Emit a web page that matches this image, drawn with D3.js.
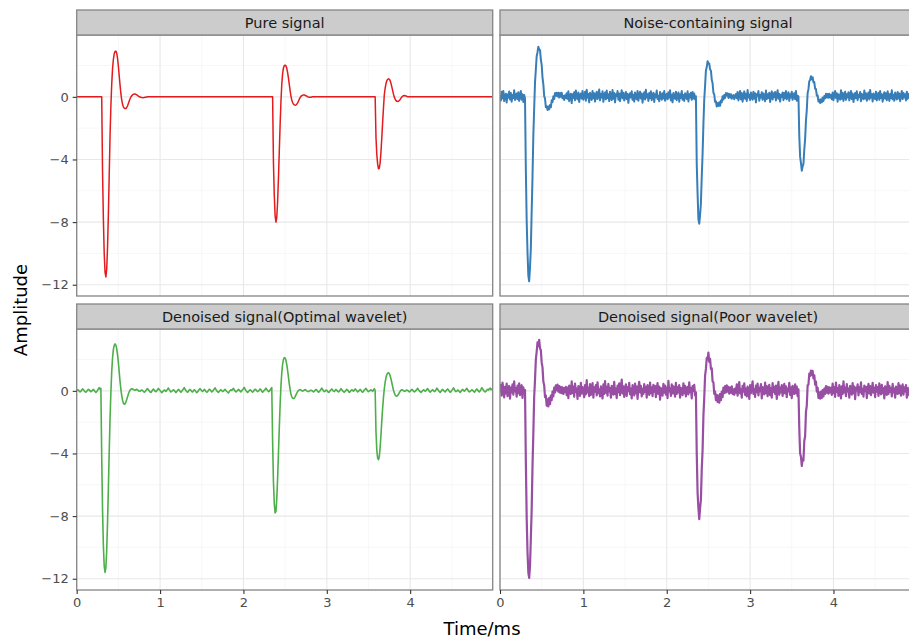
<!DOCTYPE html>
<html>
<head>
<meta charset="utf-8">
<script src="https://cdn.jsdelivr.net/npm/d3@7"></script>
<style>
  body { margin: 0; background: #ffffff; }
  svg { display: block; font-family: "DejaVu Sans", sans-serif; }
</style>
</head>
<body>
<svg id="chart" width="909" height="641"></svg>
<script>
// Facet titles and line colours (one per panel, row by row)
const panelTitles = [
  "Pure signal",
  "Noise-containing signal",
  "Denoised signal(Optimal wavelet)",
  "Denoised signal(Poor wavelet)"
];
const lineColors = ["#e41a1c", "#377eb8", "#4daf4a", "#984ea3"];

// Axis ticks
const xTicks = [0, 1, 2, 3, 4];
const xMinorTicks = [0.5, 1.5, 2.5, 3.5, 4.5];
const yTicks = [-12, -8, -4, 0];
const yMinorTicks = [-10, -6, -2, 2];

// Pure signal: [time (ms), amplitude]; flat stretches are given by their end points
const pureSignal = [
  [0, 0], [0.30, 0], [0.31, -4.8], [0.32, -7.8], [0.33, -10.0], [0.34, -11.2], [0.35, -11.5], [0.36, -11.0],
  [0.37, -9.6], [0.38, -7.5], [0.39, -5.0], [0.40, -2.5], [0.41, -0.6], [0.42, 0.8], [0.43, 1.8], [0.44, 2.4],
  [0.45, 2.75], [0.46, 2.9], [0.47, 2.92], [0.48, 2.8], [0.49, 2.45], [0.50, 1.95], [0.51, 1.35], [0.52, 0.75],
  [0.53, 0.2], [0.54, -0.2], [0.55, -0.48], [0.56, -0.64], [0.57, -0.72], [0.58, -0.75], [0.59, -0.74], [0.60, -0.68],
  [0.61, -0.57], [0.62, -0.42], [0.63, -0.26], [0.64, -0.12], [0.65, -0.01], [0.66, 0.07], [0.67, 0.13], [0.68, 0.16],
  [0.69, 0.18], [0.70, 0.18], [0.71, 0.16], [0.72, 0.13], [0.73, 0.09], [0.74, 0.05], [0.75, 0.02], [0.76, -0.01],
  [0.77, -0.03], [0.78, -0.04], [0.79, -0.05], [0.80, -0.05], [0.81, -0.04], [0.82, -0.03], [0.83, -0.02], [0.84, -0.01],
  [0.85, 0],
  [2.35, 0], [2.36, -4.2], [2.37, -6.3], [2.38, -7.6], [2.39, -8.0], [2.40, -7.7], [2.41, -6.7], [2.42, -5.2],
  [2.43, -3.5], [2.44, -1.8], [2.45, -0.3], [2.46, 0.8], [2.47, 1.5], [2.48, 1.85], [2.49, 2.0], [2.50, 2.02],
  [2.51, 1.98], [2.52, 1.82], [2.53, 1.55], [2.54, 1.2], [2.55, 0.8], [2.56, 0.4], [2.57, 0.05], [2.58, -0.2],
  [2.59, -0.36], [2.60, -0.46], [2.61, -0.51], [2.62, -0.53], [2.63, -0.52], [2.64, -0.47], [2.65, -0.38], [2.66, -0.27],
  [2.67, -0.15], [2.68, -0.05], [2.69, 0.03], [2.70, 0.08], [2.71, 0.11], [2.72, 0.12], [2.73, 0.12], [2.74, 0.1],
  [2.75, 0.07], [2.76, 0.04], [2.77, 0.01], [2.78, -0.01], [2.79, -0.02], [2.80, -0.03], [2.81, -0.02], [2.82, -0.01],
  [2.83, 0],
  [3.58, 0], [3.59, -2.6], [3.60, -3.7], [3.61, -4.3], [3.62, -4.6], [3.63, -4.55], [3.64, -4.2], [3.65, -3.5],
  [3.66, -2.6], [3.67, -1.6], [3.68, -0.7], [3.69, 0.15], [3.70, 0.55], [3.71, 0.85], [3.72, 1.03], [3.73, 1.12],
  [3.74, 1.15], [3.75, 1.13], [3.76, 1.03], [3.77, 0.86], [3.78, 0.64], [3.79, 0.4], [3.80, 0.17], [3.81, -0.02],
  [3.82, -0.15], [3.83, -0.24], [3.84, -0.29], [3.85, -0.3], [3.86, -0.28], [3.87, -0.23], [3.88, -0.16], [3.89, -0.08],
  [3.90, -0.01], [3.91, 0.04], [3.92, 0.07], [3.93, 0.08], [3.94, 0.07], [3.95, 0.05], [3.96, 0.03], [3.97, 0.01],
  [3.98, 0], [4.99, 0]
];

// Sampled signals: one value every 0.01 ms from 0 to 4.99 ms (500 samples)
const sampleStep = 0.01;

const noisySignal = [
  // 0.00 - 0.29
  0.1, -0.24, 0.33, -0.1, 0.38, -0.27, 0.06, 0.2, -0.36, 0.15, -0.05, 0.34, -0.17, 0.25, -0.31, 0.11, -0.08, 0.42, -0.2, 0.04,
  0.22, -0.15, 0.29, -0.26, 0.08, 0.37, -0.18, 0.16, -0.33, 0.12,
  // 0.30 - 0.79
  -0.1, -4.65, -7.92, -9.92, -11.42, -11.78, -10.9, -9.65, -7.32, -5.1,
  -2.44, -0.74, 0.92, 1.75, 2.6, 2.85, 3.2, 3.04, 2.98, 2.37,
  2.05, 1.23, 0.8, 0.05, -0.11, -0.66, -0.59, -0.84, -0.61, -0.8,
  -0.52, -0.67, -0.22, -0.34, 0.03, -0.14, 0.25, 0.07, 0.26, 0.03,
  0.26, -0.04, 0.25, 0.0, 0.26, -0.09, 0.06, -0.2, 0.1, -0.08,
  // 0.80 - 2.34
  0.23, -0.13, 0.35, -0.28, 0.09, 0.2, -0.4, 0.16, -0.07, 0.3, -0.22, 0.41, 0.02, -0.16, 0.27, -0.33, 0.12, 0.21, -0.11, 0.37,
  -0.18, 0.07, 0.32, -0.25, 0.45, -0.05, 0.18, -0.35, 0.26, 0.04, -0.2, 0.38, -0.09, 0.23, -0.3, 0.14, 0.33, -0.14, 0.05, 0.47,
  -0.23, 0.19, -0.04, 0.35, -0.32, 0.11, 0.28, -0.16, 0.4, -0.07, 0.17, -0.27, 0.33, 0.0, -0.21, 0.43, -0.12, 0.25, -0.35, 0.16,
  0.05, 0.37, -0.18, 0.21, -0.28, 0.12, 0.42, -0.09, 0.26, -0.23, 0.04, 0.31, -0.14, 0.19, -0.38, 0.1, 0.23, -0.05, 0.35, -0.19,
  0.14, -0.3, 0.28, 0.02, -0.16, 0.38, -0.25, 0.09, 0.33, -0.1, 0.21, -0.37, 0.07, 0.3, -0.17, 0.45, -0.04, 0.16, -0.26, 0.24,
  -0.09, 0.35, -0.21, 0.12, 0.26, -0.33, 0.17, -0.02, 0.4, -0.14, 0.07, -0.28, 0.31, 0.04, -0.19, 0.23, -0.1, 0.37, -0.25, 0.1,
  0.19, -0.16, 0.3, -0.05, 0.42, -0.23, 0.14, -0.35, 0.25, 0.0, -0.12, 0.33, -0.21, 0.09, 0.28, -0.31, 0.17, -0.07, 0.38, -0.18,
  0.12, -0.26, 0.23, 0.05, -0.14, 0.35, -0.3, 0.16, -0.04, 0.26, -0.19, 0.31, -0.1, 0.21, -0.16,
  // 2.35 - 2.82
  0.04, -4.3, -6.18, -7.8, -8.1, -7.55, -6.78, -5.1, -3.66, -1.75,
  -0.17, 0.71, 1.68, 1.9, 2.28, 2.12, 2.13, 1.76, 1.67, 1.1,
  0.87, 0.26, 0.15, -0.32, -0.28, -0.62, -0.4, -0.58, -0.35, -0.57,
  -0.24, -0.35, 0.04, -0.17, 0.12, -0.07, 0.24, 0.08, 0.22, -0.07,
  0.19, -0.04, 0.17, -0.12, 0.04, 0.12, -0.16, 0.07,
  // 2.83 - 3.57
  0.18, -0.09, 0.31, -0.23, 0.1, 0.38, -0.16, 0.24, -0.31, 0.05, 0.35, -0.12, 0.19, -0.26, 0.43, -0.04, 0.14, -0.21, 0.28, 0.02,
  -0.18, 0.33, -0.1, 0.23, -0.35, 0.16, 0.07, 0.37, -0.25, 0.12, -0.05, 0.3, -0.19, 0.21, 0.04, -0.28, 0.4, -0.14, 0.17, -0.07,
  0.26, -0.33, 0.1, 0.35, -0.17, 0.23, -0.02, 0.31, -0.23, 0.09, 0.42, -0.12, 0.19, -0.3, 0.14, 0.0, 0.28, -0.21, 0.25, -0.09,
  0.37, -0.16, 0.05, 0.3, -0.26, 0.17, -0.04, 0.33, -0.19, 0.12, 0.23, -0.14, 0.38, -0.25, 0.07,
  // 3.58 - 3.97
  0.02, -2.5, -3.82, -4.24, -4.72, -4.45, -4.28, -3.38, -2.7, -1.52,
  -0.84, 0.25, 0.49, 1.0, 1.08, 1.32, 1.11, 1.25, 0.93, 0.94,
  0.51, 0.5, 0.08, 0.1, -0.3, -0.18, -0.39, -0.16, -0.35, -0.05,
  -0.26, 0.05, -0.1, 0.2, -0.04, 0.18, -0.06, 0.2, -0.05, 0.12,
  // 3.98 - 4.99
  -0.16, 0.28,
  -0.21, 0.12, 0.37, -0.07, 0.23, -0.31, 0.16, 0.04, -0.18, 0.42, -0.12, 0.26, -0.26, 0.09, 0.33, -0.19, 0.17, -0.04, 0.3, -0.23,
  0.1, 0.38, -0.14, 0.21, -0.33, 0.05, 0.25, -0.09, 0.35, -0.21, 0.14, -0.02, 0.31, -0.28, 0.19, 0.07, -0.16, 0.4, -0.1, 0.23,
  -0.25, 0.12, 0.28, -0.17, 0.44, -0.05, 0.16, -0.3, 0.21, 0.0, -0.14, 0.33, -0.23, 0.1, 0.26, -0.19, 0.37, -0.07, 0.17, -0.31,
  0.05, 0.3, -0.12, 0.23, -0.21, 0.35, 0.02, -0.26, 0.19, -0.09, 0.42, -0.16, 0.14, -0.25, 0.28, 0.04, -0.17, 0.31, -0.1, 0.21,
  -0.28, 0.09, 0.37, -0.14, 0.25, -0.04, 0.16, -0.23, 0.33, -0.12, 0.19, 0.07, -0.21, 0.3, -0.05, 0.38, -0.17, 0.1, 0.23, -0.09
];

const optimalDenoised = [
  // 0.00 - 0.29
  0.03, 0.07, 0.05, -0.02, -0.07, -0.03, 0.05, 0.12, 0.08, 0.01, -0.05, -0.09, -0.03, 0.04, 0.1, 0.06, 0.0, -0.06, -0.02, 0.05,
  0.09, 0.03, -0.04, -0.1, -0.05, 0.03, 0.13, 0.2, 0.09, 0.16,
  // 0.30 - 0.79
  -4.2, -7.6, -9.9, -11.2, -11.6, -11.3, -10.2, -8.4, -6.2, -3.9,
  -1.8, -0.1, 1.2, 2.1, 2.65, 2.9, 3.0, 2.92, 2.7, 2.3,
  1.8, 1.2, 0.6, 0.1, -0.3, -0.6, -0.78, -0.85, -0.83, -0.72,
  -0.56, -0.38, -0.2, -0.06, 0.04, 0.1, 0.13, 0.12, 0.09, 0.06,
  0.04, 0.07, 0.1, 0.06, 0.01, -0.03, -0.02, 0.02, 0.05, 0.02,
  // 0.80 - 2.34
  -0.04, -0.09, -0.05, 0.02, 0.09, 0.14, 0.07, 0.0, -0.07, -0.1, -0.03, 0.05, 0.11, 0.05, -0.02, -0.06, 0.0, 0.07, 0.16, 0.08,
  0.02, -0.05, -0.12, -0.07, 0.0, 0.05, 0.02, -0.04, 0.04, 0.1, 0.18, 0.08, 0.0, -0.07, -0.03, 0.02, 0.07, 0.03, -0.05, -0.11,
  -0.05, 0.03, 0.09, 0.05, -0.02, -0.09, -0.03, 0.05, 0.12, 0.21, 0.1, 0.02, -0.05, -0.09, -0.02, 0.05, 0.09, 0.03, -0.04, -0.07,
  0.0, 0.07, 0.03, -0.05, -0.12, -0.07, 0.02, 0.09, 0.14, 0.07, 0.0, -0.04, 0.02, 0.09, 0.05, -0.04, -0.09, -0.05, 0.03, 0.1,
  0.07, 0.0, -0.07, -0.03, 0.05, 0.12, 0.19, 0.09, 0.0, -0.05, -0.1, -0.04, 0.03, 0.07, 0.02, -0.05, -0.02, 0.05, 0.1, 0.03,
  -0.04, -0.09, -0.14, -0.05, 0.02, 0.07, 0.03, 0.09, 0.16, 0.07, -0.02, -0.07, -0.03, 0.03, 0.09, 0.05, -0.02, -0.07, 0.0, 0.07,
  0.14, 0.22, 0.1, 0.02, -0.05, -0.1, -0.05, 0.02, 0.07, 0.03, -0.04, -0.09, -0.03, 0.05, 0.1, 0.07, 0.0, -0.05, -0.02, 0.05,
  0.12, 0.07, -0.02, -0.09, -0.03, 0.03, 0.09, 0.17, 0.09, 0.02, -0.05, -0.03, 0.05, 0.14, 0.2,
  // 2.35 - 2.82
  -3.2, -5.8, -7.2, -7.8, -7.7, -6.9, -5.6, -4.0, -2.4, -0.9,
  0.3, 1.15, 1.7, 2.0, 2.12, 2.1, 1.95, 1.68, 1.3, 0.88,
  0.45, 0.08, -0.2, -0.38, -0.47, -0.5, -0.46, -0.37, -0.26, -0.14,
  -0.05, 0.02, 0.06, 0.08, 0.05, 0.01, -0.02, 0.01, 0.05, 0.08,
  0.04, 0.0, -0.03, -0.05, -0.02, 0.02, 0.04, 0.02,
  // 2.83 - 3.57
  -0.02, -0.07, -0.03, 0.03, 0.09, 0.05, -0.02, -0.09, -0.05, 0.02, 0.1, 0.17, 0.09, 0.0, -0.05, -0.02, 0.05, 0.03, -0.03, -0.1,
  -0.07, 0.0, 0.07, 0.12, 0.05, -0.02, -0.05, 0.02, 0.09, 0.03, -0.03, -0.07, -0.02, 0.05, 0.14, 0.07, 0.0, -0.05, -0.09, -0.03,
  0.03, 0.1, 0.05, -0.03, -0.1, -0.05, 0.02, 0.07, 0.03, -0.02, 0.05, 0.12, 0.07, 0.0, -0.07, -0.03, 0.03, 0.09, 0.03, -0.05,
  -0.09, -0.02, 0.05, 0.1, 0.16, 0.07, 0.0, -0.05, -0.02, 0.03, 0.07, 0.02, -0.03, 0.05, 0.14,
  // 3.58 - 3.97
  0.02, -2.6, -3.8, -4.3, -4.4, -4.2, -3.6, -2.8, -1.9, -1.1,
  -0.4, 0.15, 0.55, 0.85, 1.04, 1.13, 1.16, 1.1, 0.96, 0.76,
  0.52, 0.27, 0.04, -0.14, -0.26, -0.33, -0.34, -0.3, -0.22, -0.12,
  -0.03, 0.04, 0.07, 0.05, 0.01, -0.03, -0.02, 0.02, 0.05, 0.03,
  // 3.98 - 4.99
  -0.02, -0.07,
  -0.03, 0.03, 0.1, 0.05, -0.02, -0.07, -0.03, 0.03, 0.09, 0.16, 0.07, 0.0, -0.05, -0.1, -0.05, 0.02, 0.07, 0.03, -0.03, 0.02,
  0.09, 0.14, 0.05, -0.03, -0.09, -0.03, 0.03, 0.07, 0.02, -0.05, -0.02, 0.07, 0.17, 0.1, 0.02, -0.05, -0.1, -0.03, 0.05, 0.09,
  0.03, -0.03, -0.07, 0.0, 0.07, 0.12, 0.05, -0.02, -0.09, -0.05, 0.03, 0.1, 0.19, 0.09, 0.0, -0.05, -0.02, 0.05, 0.02, -0.05,
  -0.1, -0.03, 0.05, 0.09, 0.03, -0.02, 0.03, 0.1, 0.16, 0.07, -0.02, -0.07, -0.03, 0.02, 0.07, 0.03, -0.03, -0.09, -0.02, 0.07,
  0.12, 0.05, -0.03, -0.07, 0.0, 0.09, 0.2, 0.12, 0.03, -0.03, -0.07, -0.02, 0.05, 0.1, 0.05, 0.14, 0.17, 0.07, 0.12, 0.09
];

const poorDenoised = [
  // 0.00 - 0.29
  -0.1, 0.38, -0.3, 0.52, 0.14, -0.42, 0.26, -0.16, 0.47, -0.34, 0.07, 0.31, -0.5, 0.21, -0.1, 0.41, -0.24, 0.6, -0.04, 0.17,
  -0.37, 0.33, -0.14, 0.48, -0.27, 0.1, 0.36, -0.45, 0.22, -0.17,
  // 0.30 - 0.79
  0.05, -4.5, -8.1, -10.3, -11.6, -11.95, -11.2, -9.4, -7.6, -4.8,
  -2.7, -0.4, 0.7, 2.0, 2.5, 3.1, 2.85, 3.25, 2.7, 2.6,
  1.8, 1.5, 0.6, 0.35, -0.4, -0.3, -0.95, -0.55, -1.0, -0.45,
  -0.85, -0.3, -0.6, -0.05, -0.35, 0.2, -0.1, 0.35, 0.05, 0.4,
  -0.05, 0.3, -0.12, 0.26, -0.15, 0.22, -0.2, 0.18, -0.08, 0.25,
  // 0.80 - 2.34
  -0.27, 0.21, -0.47, 0.34, 0.05, -0.2, 0.6, -0.14, 0.27, -0.37, 0.46, -0.07, 0.15, -0.52, 0.31, 0.1, -0.32, 0.51, -0.17, 0.24,
  0.0, -0.41, 0.36, -0.22, 0.68, -0.1, 0.19, -0.34, 0.43, -0.26, 0.12, 0.49, -0.44, 0.22, -0.05, 0.37, -0.29, 0.55, -0.15, 0.09,
  -0.36, 0.29, 0.03, -0.49, 0.41, -0.19, 0.62, -0.12, 0.26, -0.31, 0.44, -0.03, 0.17, -0.43, 0.32, 0.07, -0.24, 0.57, -0.2, 0.14,
  -0.46, 0.34, -0.09, 0.48, -0.27, 0.21, 0.72, -0.17, 0.29, -0.39, 0.1, 0.41, -0.32, 0.24, -0.02, 0.51, -0.22, 0.15, -0.48, 0.36,
  0.05, -0.29, 0.46, -0.14, 0.27, -0.51, 0.19, 0.58, -0.1, 0.32, -0.36, 0.12, -0.2, 0.43, -0.07, 0.26, -0.44, 0.37, 0.02, -0.26,
  0.53, -0.15, 0.22, -0.34, 0.39, -0.05, 0.31, -0.41, 0.14, 0.49, -0.19, 0.27, -0.56, 0.17, 0.09, -0.31, 0.44, -0.12, 0.34, -0.24,
  0.2, -0.46, 0.64, -0.03, 0.15, -0.32, 0.41, -0.17, 0.29, 0.03, -0.37, 0.51, -0.2, 0.24, -0.1, 0.36, -0.43, 0.19, 0.07, -0.27,
  0.48, -0.14, 0.32, -0.36, 0.12, 0.26, -0.22, 0.55, -0.09, 0.17, -0.49, 0.31, 0.0, 0.39, -0.29,
  // 2.35 - 2.82
  -0.1, -4.0, -6.5, -7.5, -8.2, -7.5, -6.95, -5.0, -3.8, -1.6,
  -0.45, 0.95, 1.4, 2.1, 2.0, 2.45, 1.85, 2.05, 1.4, 1.45,
  0.6, 0.55, -0.2, -0.05, -0.6, -0.25, -0.7, -0.3, -0.75, -0.2,
  -0.6, -0.05, -0.4, 0.2, -0.15, 0.3, -0.1, 0.35, -0.05, 0.25,
  -0.18, 0.2, -0.12, 0.28, -0.2, 0.1, -0.25, 0.15,
  // 2.83 - 3.57
  -0.12, 0.41, -0.31, 0.2, 0.56, -0.17, 0.1, -0.44, 0.32, -0.05, 0.48, -0.26, 0.15, -0.36, 0.27, 0.03, -0.51, 0.37, -0.14, 0.22,
  0.61, -0.2, 0.09, -0.39, 0.34, -0.09, 0.46, -0.29, 0.19, -0.02, 0.43, -0.48, 0.24, 0.12, -0.22, 0.53, -0.15, 0.31, -0.34, 0.05,
  0.39, -0.27, 0.17, -0.43, 0.49, -0.07, 0.26, -0.19, 0.34, -0.51, 0.14, 0.58, -0.24, 0.2, -0.1, 0.36, -0.32, 0.07, 0.44, -0.17,
  0.29, -0.41, 0.15, -0.03, 0.51, -0.26, 0.22, -0.46, 0.32, 0.02, -0.2, 0.41, -0.14, 0.27, -0.34,
  // 3.58 - 3.97
  0.1, -2.4, -4.0, -4.2, -4.8, -4.35, -4.45, -3.2, -2.9, -1.35,
  -0.95, 0.35, 0.4, 1.1, 0.95, 1.3, 1.0, 1.28, 0.8, 1.0,
  0.4, 0.6, -0.05, 0.2, -0.45, -0.1, -0.5, -0.05, -0.45, 0.05,
  -0.35, 0.15, -0.2, 0.3, -0.12, 0.26, -0.18, 0.22, -0.1, 0.19,
  // 3.98 - 4.99
  -0.26, 0.46,
  -0.14, 0.24, -0.39, 0.53, -0.07, 0.17, -0.32, 0.37, 0.05, -0.48, 0.29, -0.19, 0.6, -0.1, 0.2, -0.34, 0.43, -0.03, 0.14, -0.44,
  0.32, 0.09, -0.24, 0.49, -0.15, 0.27, -0.53, 0.19, 0.03, 0.41, -0.29, 0.22, -0.09, 0.54, -0.2, 0.12, -0.37, 0.34, -0.02, 0.26,
  -0.46, 0.15, 0.44, -0.17, 0.31, -0.27, 0.07, 0.51, -0.12, 0.2, -0.41, 0.36, -0.05, 0.24, -0.32, 0.48, 0.0, -0.22, 0.39, -0.14,
  0.17, -0.49, 0.29, 0.1, -0.26, 0.56, -0.19, 0.32, -0.07, 0.19, -0.36, 0.44, -0.1, 0.14, -0.43, 0.27, 0.05, -0.2, 0.49, -0.15,
  0.34, -0.31, 0.12, 0.41, -0.24, 0.22, -0.03, 0.37, -0.44, 0.17, 0.09, -0.29, 0.53, -0.12, 0.26, -0.34, 0.15, 0.02, 0.31, -0.19
];

// ---- layout ----
const svg = d3.select("#chart");
svg.append("rect").attr("width", 909).attr("height", 641).attr("fill", "#ffffff");

const colLeft = [76.7, 500];
const stripTop = [10, 304];
const stripH = 25;
const panelW = 416;
const panelH = 261;

const x = d3.scaleLinear().domain([0, 4.99]).range([0, panelW]);
const y = d3.scaleLinear().domain([-12.72, 3.95]).range([panelH, 0]);

const sampled = arr => arr.map((v, i) => ({ t: i * sampleStep, v }));
const series = [
  pureSignal.map(([t, v]) => ({ t, v })),
  sampled(noisySignal),
  sampled(optimalDenoised),
  sampled(poorDenoised)
];
const lineWidths = [1.5, 2.0, 1.6, 2.2];

const line = d3.line().x(d => x(d.t)).y(d => y(d.v));

svg.append("defs").append("clipPath").attr("id", "panel-clip")
  .append("rect").attr("width", panelW).attr("height", panelH);

series.forEach((pts, k) => {
  const row = Math.floor(k / 2), col = k % 2;
  const g = svg.append("g")
    .attr("transform", `translate(${colLeft[col]},${stripTop[row] + stripH})`);

  g.append("rect").attr("width", panelW).attr("height", panelH).attr("fill", "#ffffff");

  // minor grid
  g.selectAll(".gx-minor").data(xMinorTicks).join("line")
    .attr("x1", d => x(d)).attr("x2", d => x(d)).attr("y1", 0).attr("y2", panelH)
    .attr("stroke", "#f2f2f2").attr("stroke-width", 0.6);
  g.selectAll(".gy-minor").data(yMinorTicks).join("line")
    .attr("x1", 0).attr("x2", panelW).attr("y1", d => y(d)).attr("y2", d => y(d))
    .attr("stroke", "#f2f2f2").attr("stroke-width", 0.6);
  // major grid
  g.selectAll(".gx-major").data(xTicks).join("line")
    .attr("x1", d => x(d)).attr("x2", d => x(d)).attr("y1", 0).attr("y2", panelH)
    .attr("stroke", "#e8e8e8").attr("stroke-width", 1.1);
  g.selectAll(".gy-major").data(yTicks).join("line")
    .attr("x1", 0).attr("x2", panelW).attr("y1", d => y(d)).attr("y2", d => y(d))
    .attr("stroke", "#e8e8e8").attr("stroke-width", 1.1);

  g.append("path").datum(pts)
    .attr("clip-path", "url(#panel-clip)")
    .attr("d", line)
    .attr("fill", "none")
    .attr("stroke", lineColors[k])
    .attr("stroke-width", lineWidths[k])
    .attr("stroke-linejoin", "round");

  g.append("rect").attr("width", panelW).attr("height", panelH)
    .attr("fill", "none").attr("stroke", "#858585").attr("stroke-width", 1.3);

  // facet strip
  g.append("rect").attr("x", 0).attr("y", -stripH).attr("width", panelW).attr("height", stripH)
    .attr("fill", "#cccccc").attr("stroke", "#858585").attr("stroke-width", 1.3);
  g.append("text").attr("x", panelW / 2).attr("y", -stripH / 2)
    .attr("text-anchor", "middle").attr("dominant-baseline", "central")
    .attr("font-size", "14.5px").attr("fill", "#1a1a1a")
    .text(panelTitles[k]);

  // axes on outer panels only
  if (col === 0) {
    const ax = g.append("g").call(d3.axisLeft(y).tickValues(yTicks).tickSize(4).tickPadding(4));
    ax.select(".domain").remove();
    ax.selectAll(".tick line").attr("stroke", "#333333").attr("stroke-width", 1.1);
    ax.selectAll(".tick text").attr("fill", "#4d4d4d").attr("font-size", "13px")
      .attr("font-family", "DejaVu Sans, sans-serif");
  }
  if (row === 1) {
    const ax = g.append("g").attr("transform", `translate(0,${panelH})`)
      .call(d3.axisBottom(x).tickValues(xTicks).tickFormat(d3.format("d")).tickSize(4).tickPadding(4));
    ax.select(".domain").remove();
    ax.selectAll(".tick line").attr("stroke", "#333333").attr("stroke-width", 1.1);
    ax.selectAll(".tick text").attr("fill", "#4d4d4d").attr("font-size", "13px")
      .attr("font-family", "DejaVu Sans, sans-serif");
  }
});

// axis titles
svg.append("text").attr("x", 482).attr("y", 635)
  .attr("text-anchor", "middle").attr("font-size", "18px").attr("fill", "#000000")
  .text("Time/ms");
svg.append("text").attr("transform", "translate(27,310) rotate(-90)")
  .attr("text-anchor", "middle").attr("font-size", "18px").attr("fill", "#000000")
  .text("Amplitude");
</script>
</body>
</html>
